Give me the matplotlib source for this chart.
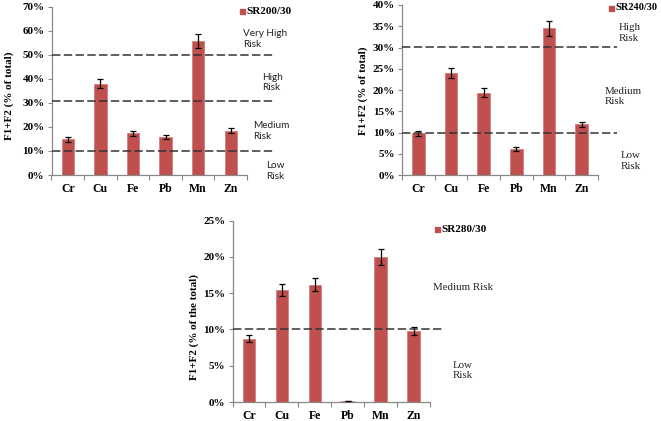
import matplotlib
matplotlib.use("Agg")
import matplotlib.pyplot as plt
import matplotlib.transforms as mtransforms
from matplotlib.patches import Rectangle

W, H = 661, 421
categories = ["Cr", "Cu", "Fe", "Pb", "Mn", "Zn"]

sr200_vals = [14.8, 38.1, 17.3, 15.9, 55.9, 18.4]
sr200_err = [1.0, 1.9, 1.0, 0.8, 2.8, 1.0]
sr200_thresh = [50.2, 31.0, 10.1]

sr240_vals = [9.8, 24.0, 19.4, 6.1, 34.5, 11.9]
sr240_err = [0.6, 1.2, 1.1, 0.4, 1.8, 0.6]
sr240_thresh = [30.1, 10.0]

sr280_vals = [8.75, 15.4, 16.2, 0.12, 20.0, 9.8]
sr280_err = [0.45, 0.85, 0.85, 0.05, 1.05, 0.55]
sr280_thresh = [10.0]

BAR = "#C0504D"
SERIF = "Liberation Serif"
SANS = "Lato"

fig = plt.figure(figsize=(W / 100, H / 100), dpi=100)
fig.patch.set_facecolor("white")


def px_axes(x0, y0, x1, y1):
    return fig.add_axes([x0 / W, 1 - y1 / H, (x1 - x0) / W, (y1 - y0) / H])


def panel(box, vals, errs, thresh, ymax, ystep, ylabel, legend, line_end,
          legend_px, ylabel_px, legend_size=8):
    ax = px_axes(*box)
    x = list(range(len(categories)))
    ax.bar(x, vals, width=0.38, color=BAR, edgecolor="#D47F7C", linewidth=0.6,
           zorder=2)
    ax.errorbar(x, vals, yerr=errs, fmt="none", ecolor="black", elinewidth=0.9,
                capsize=2.3, capthick=0.9, zorder=3)
    ax.set_xlim(-0.5, len(categories) - 0.5)
    ax.set_ylim(0, ymax)
    yt = [i * ystep for i in range(int(round(ymax / ystep)) + 1)]
    ax.set_yticks(yt)
    ax.set_yticklabels([f"{v:g}%" for v in yt], fontfamily=SERIF,
                       fontweight="bold", fontsize=8)
    ax.set_xticks(x)
    ax.set_xticklabels(categories, fontfamily=SERIF, fontweight="bold",
                       fontsize=8.5)
    ax.set_xticks([i + 0.5 for i in range(-1, len(categories))], minor=True)
    ax.tick_params(axis="x", which="major", length=0, pad=6)
    ax.tick_params(axis="x", which="minor", length=3.5, color="#888888",
                   width=0.8)
    ax.tick_params(axis="y", length=3, color="#888888", width=0.8, pad=2)
    for s in ["top", "right"]:
        ax.spines[s].set_visible(False)
    for s in ["left", "bottom"]:
        ax.spines[s].set_color("#888888")
        ax.spines[s].set_linewidth(0.9)
    trans = mtransforms.blended_transform_factory(ax.transAxes, ax.transData)
    for t in thresh:
        ax.plot([0, line_end], [t, t], transform=trans, color="#333333",
                linestyle=(0, (5.5, 2.2)), linewidth=1.1, clip_on=False,
                zorder=4)
    # y label
    lx, ly = ylabel_px
    fig.text(lx / W, 1 - ly / H, ylabel, rotation=90, ha="center", va="center",
             fontfamily=SERIF, fontweight="bold", fontsize=8)
    # legend
    sx, sy = legend_px
    fig.patches.append(Rectangle((sx / W, 1 - (sy + 3) / H), 5 / W, 5 / H,
                                 transform=fig.transFigure, color=BAR))
    fig.text((sx + 6.5) / W, 1 - sy / H, legend, ha="left", va="center",
             fontfamily=SERIF, fontweight="bold", fontsize=legend_size)
    return ax


def note(x, y, s, family, size=7.2):
    fig.text(x / W, 1 - y / H, s, ha="left", va="center", fontfamily=family,
             fontsize=size, color="#222222", linespacing=1.25)


panel((51.5, 7, 247, 175), sr200_vals, sr200_err, sr200_thresh, 70, 10,
      "F1+F2 (% of total)", "SR200/30", 1.143, (240, 11), (9, 96))
panel((402, 5, 598, 175), sr240_vals, sr240_err, sr240_thresh, 40, 5,
      "F1+F2 (% of total)", "SR240/30", 1.097, (609, 8), (363, 91),
      legend_size=7.5)
panel((232.5, 220.7, 430, 402), sr280_vals, sr280_err, sr280_thresh, 25, 5,
      "F1+F2 (% of the total)", "SR280/30", 1.066, (435, 229), (194, 327))

note(243, 39, "Very High\nRisk", SANS)
note(262, 82.5, "High\nRisk", SANS)
note(253, 131, "Medium\nRisk", SANS)
note(266, 171, "Low\nRisk", SANS)

note(619, 33, "High\nRisk", SERIF, 7.8)
note(605, 96.5, "Medium\nRisk", SERIF, 7.8)
note(621, 161, "Low\nRisk", SERIF, 7.8)

note(433, 287, "Medium Risk", SERIF, 7.8)
note(453, 370.5, "Low\nRisk", SERIF, 7.8)

fig.savefig("out.png", dpi=100, facecolor="white")
